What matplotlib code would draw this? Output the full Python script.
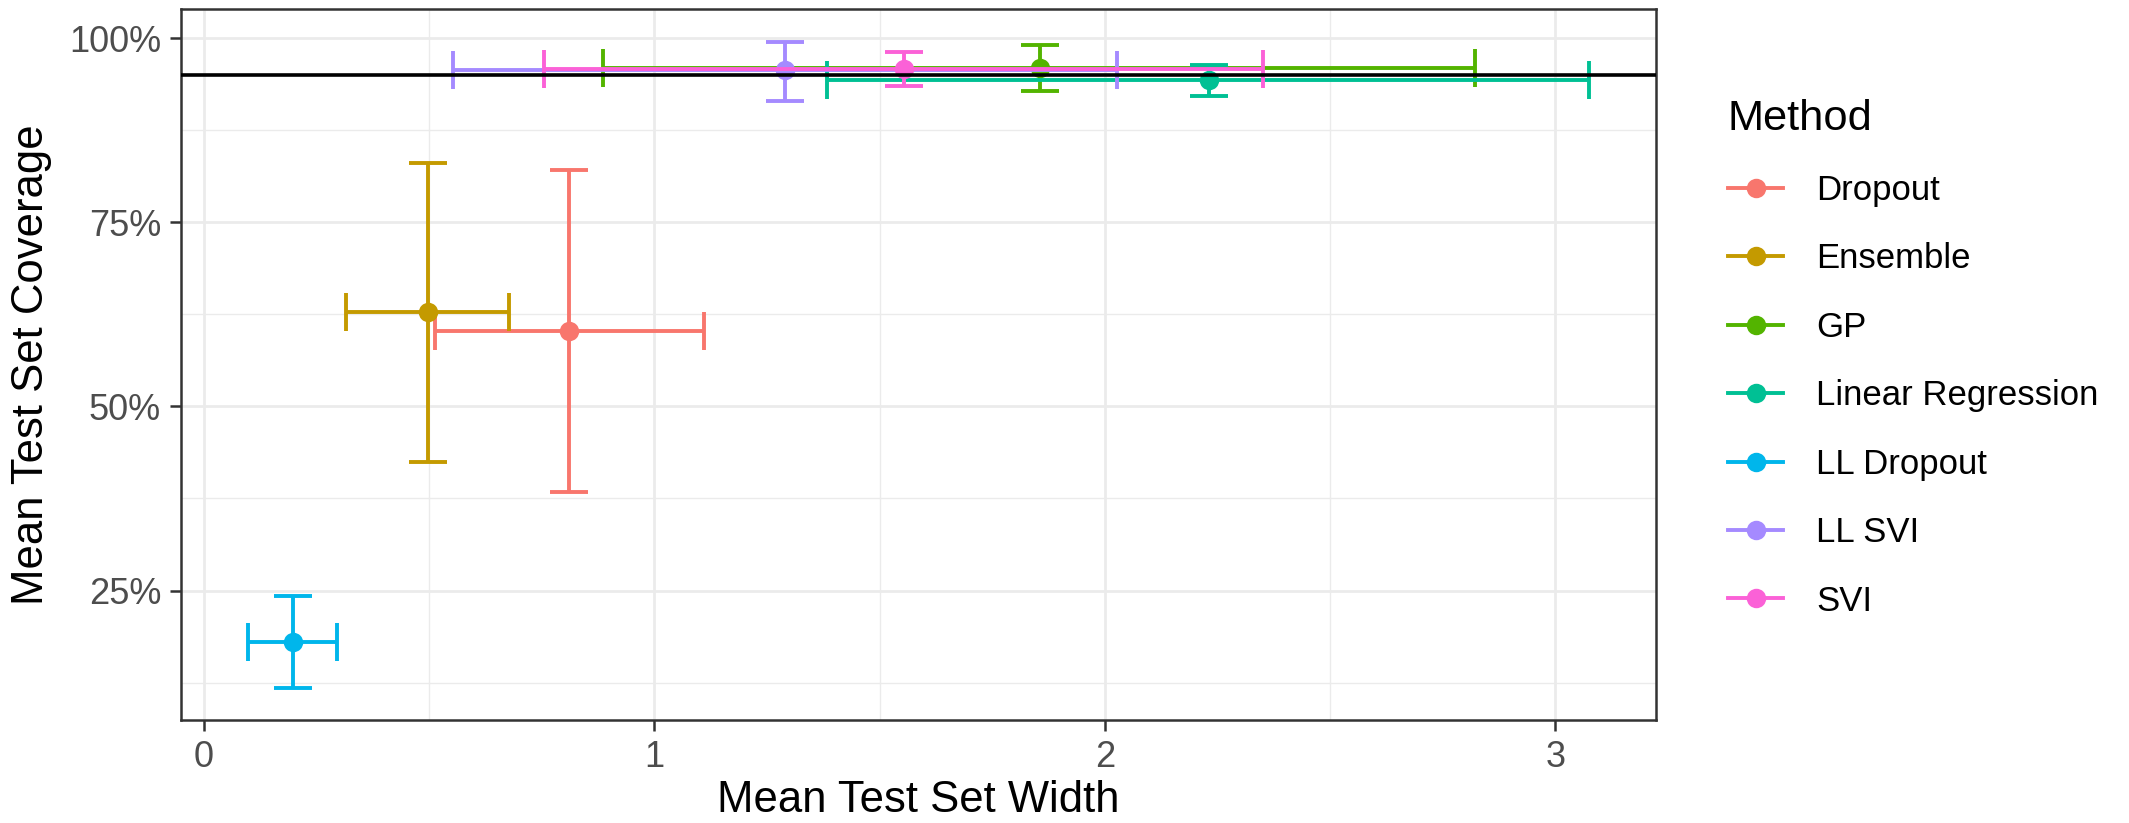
import matplotlib
matplotlib.use("Agg")
import matplotlib.pyplot as plt
from matplotlib.lines import Line2D
from matplotlib.ticker import FixedLocator, FuncFormatter

plt.rcParams['font.family'] = ['Liberation Sans', 'DejaVu Sans']

# Interval summaries per method: mean width / coverage with lower-upper bounds
methods = ["Dropout", "Ensemble", "GP", "Linear Regression", "LL Dropout", "LL SVI", "SVI"]
width_mean = [0.810, 0.497, 1.855, 2.230, 0.197, 1.289, 1.555]
width_lo = [0.512, 0.316, 0.886, 1.383, 0.097, 0.553, 0.754]
width_hi = [1.111, 0.677, 2.822, 3.075, 0.296, 2.026, 2.350]
cov_mean = [60.2, 62.8, 95.9, 94.3, 18.0, 95.6, 95.8]
cov_lo = [38.4, 42.4, 92.8, 92.2, 11.8, 91.5, 93.5]
cov_hi = [82.1, 83.1, 99.1, 96.3, 24.2, 99.5, 98.1]
target_coverage = 95.0

colors = ["#F8766D", "#C49A00", "#53B400", "#00C094", "#00B6EB", "#A58AFF", "#FB61D7"]

DPI = 200
fig = plt.figure(figsize=(2129 / DPI, 823 / DPI), dpi=DPI)
ax = fig.add_axes([0.0848, 0.125, 0.778 - 0.0848, 0.9885 - 0.125])

lw = 1.4
cap = 6.8
for i, m in enumerate(methods):
    c = colors[i]
    ax.plot(width_mean[i], cov_mean[i], 'o', color=c, ms=6, zorder=3)
    ax.errorbar(width_mean[i], cov_mean[i],
                yerr=[[cov_mean[i] - cov_lo[i]], [cov_hi[i] - cov_mean[i]]],
                fmt='none', ecolor=c, elinewidth=lw, capsize=cap, capthick=lw, zorder=3)
    ax.errorbar(width_mean[i], cov_mean[i],
                xerr=[[width_mean[i] - width_lo[i]], [width_hi[i] - width_mean[i]]],
                fmt='none', ecolor=c, elinewidth=lw, capsize=cap, capthick=lw, zorder=3)

ax.axhline(target_coverage, color='black', lw=1.3, zorder=4)

# theme: white panel, light grid, dark border
ax.set_facecolor('white')
ax.xaxis.set_major_locator(FixedLocator([0, 1, 2, 3]))
ax.xaxis.set_minor_locator(FixedLocator([0.5, 1.5, 2.5]))
ax.yaxis.set_major_locator(FixedLocator([25, 50, 75, 100]))
ax.yaxis.set_minor_locator(FixedLocator([12.5, 37.5, 62.5, 87.5]))
ax.yaxis.set_major_formatter(FuncFormatter(lambda v, p: f"{v:.0f}%"))
ax.grid(which='major', color='#EBEBEB', lw=1.0, zorder=0)
ax.grid(which='minor', color='#EBEBEB', lw=0.5, zorder=0)
ax.set_axisbelow(True)
for s in ax.spines.values():
    s.set_color('#333333')
    s.set_linewidth(0.9)
ax.tick_params(which='major', length=4, width=0.9, color='#333333',
               labelsize=13, labelcolor='#4D4D4D', pad=3)
ax.tick_params(which='minor', length=0)

ax.set_xlabel("Mean Test Set Width", fontsize=15.7, color='black', labelpad=2)
ax.set_ylabel("Mean Test Set Coverage", fontsize=15.7, color='black', labelpad=6)

handles = [Line2D([0], [0], color=c, lw=lw, marker='o', ms=6) for c in colors]
leg = fig.legend(handles, methods, title="Method", loc='upper left',
                 bbox_to_anchor=(0.805, 0.897), frameon=False, fontsize=12.5,
                 title_fontsize=15.6, handlelength=1.6, handletextpad=0.95,
                 labelspacing=1.02, borderaxespad=0)
leg._legend_box.align = "left"

fig.savefig("out.png", dpi=DPI, facecolor='white')
